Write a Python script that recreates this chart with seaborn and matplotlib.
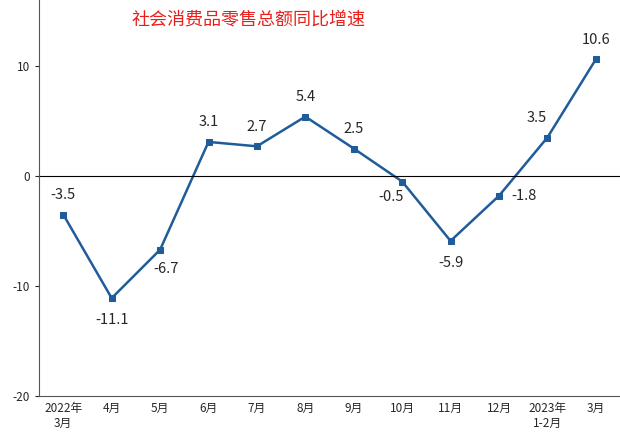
import matplotlib
matplotlib.use("Agg")
import matplotlib.pyplot as plt
import seaborn as sns
import pandas as pd

months = ["2022年\n3月", "4月", "5月", "6月", "7月", "8月", "9月", "10月", "11月", "12月", "2023年\n1-2月", "3月"]
growth = [-3.5, -11.1, -6.7, 3.1, 2.7, 5.4, 2.5, -0.5, -5.9, -1.8, 3.5, 10.6]
# label offsets in points (dx, dy)
offsets = [(0, 14), (0, -16), (4, -14), (0, 14), (0, 14), (0, 14), (0, 14), (-8, -11), (0, -16), (18, 0), (-8, 14), (0, 14)]

sns.set_style("white")
plt.rcParams['font.family'] = ['Noto Sans CJK SC', 'DejaVu Sans']
plt.rcParams['axes.unicode_minus'] = False

df = pd.DataFrame({"x": range(len(months)), "y": growth})
fig = plt.figure(figsize=(6.2, 4.48), dpi=100)
ax = fig.add_axes([0.063, 0.116, 0.937, 0.884])
sns.lineplot(data=df, x="x", y="y", ax=ax, color="#1f5c99", linewidth=1.8,
             marker="s", markersize=5, markeredgecolor="#1f5c99")
for i, (v, (dx, dy)) in enumerate(zip(growth, offsets)):
    ax.annotate(f"{v:.1f}", (i, v), xytext=(dx, dy), textcoords="offset points",
                ha="center", va="center", fontsize=10.5)
ax.axhline(0, color="black", linewidth=0.8)
ax.set_xlim(-0.5, len(months) - 0.5)
ax.set_ylim(-20, 16)
ax.set_yticks([-20, -10, 0, 10])
ax.set_xticks(range(len(months)))
ax.set_xticklabels(months, fontsize=8.5)
ax.tick_params(axis="y", labelsize=8.5, left=True, length=3)
ax.tick_params(axis="x", length=0, pad=4)
ax.set_xlabel("")
ax.set_ylabel("")
for s in ["top", "right"]:
    ax.spines[s].set_visible(False)
ax.spines["left"].set_color("#555555")
ax.spines["bottom"].set_color("#555555")
ax.text(0.36, 0.95, "社会消费品零售总额同比增速", transform=ax.transAxes,
        color="#e8201c", fontsize=13, ha="center", va="center")
fig.savefig("out.png", dpi=100)
